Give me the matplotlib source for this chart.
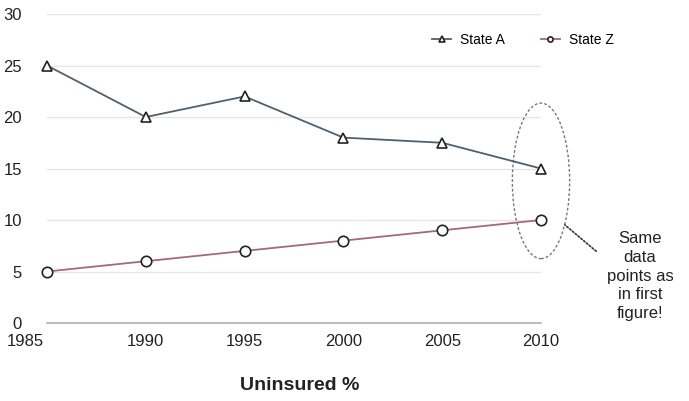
import matplotlib
matplotlib.use("Agg")
import matplotlib.pyplot as plt
from matplotlib.patches import Ellipse
from matplotlib.transforms import ScaledTranslation

years = [1985, 1990, 1995, 2000, 2005, 2010]
state_a = [25, 20, 22, 18, 17.5, 15]
state_z = [5, 6, 7, 8, 9, 10]
y_ticks = [0, 5, 10, 15, 20, 25, 30]

plt.rcParams['font.family'] = ['Liberation Sans', 'DejaVu Sans']

fig = plt.figure(figsize=(6.89, 4.01), dpi=100)
ax = fig.add_axes([0.0682, 0.1945, 0.7170, 0.7705])

ax.set_xlim(1985, 2010)
ax.set_ylim(0, 30)
ax.set_yticks(y_ticks)
ax.set_xticks(years)
ax.grid(axis='y', color='#e6e6e6', linewidth=1)
ax.set_axisbelow(True)
for s in ['top', 'right', 'left']:
    ax.spines[s].set_visible(False)
ax.spines['bottom'].set_color('#b0b0b0')
ax.spines['bottom'].set_linewidth(1.2)
ax.tick_params(length=0, labelsize=12, colors='#222222')
ax.tick_params(axis='y', pad=18)
ax.tick_params(axis='x', pad=8)

ax.plot(years, state_a, color='#4f6070', lw=1.3, marker='^', ms=7.5,
        mfc='white', mec='#222222', mew=1.2, label='State A', clip_on=False, zorder=3)
ax.plot(years, state_z, color='#a66a72', lw=1.3, marker='o', ms=7.5,
        mfc='white', mec='#222222', mew=1.2, label='State Z', clip_on=False, zorder=3)

fig.canvas.draw()
first = ax.get_xticklabels()[0]
first.set_transform(first.get_transform() + ScaledTranslation(-0.22, 0, fig.dpi_scale_trans))

leg = fig.legend(loc='center left', bbox_to_anchor=(432 / 689, 1 - 40 / 401), ncol=2,
                 frameon=False, fontsize=10, markerscale=0.5, handlelength=1.4,
                 columnspacing=2.6, handletextpad=0.6, borderaxespad=0, borderpad=0)

ell = Ellipse((2010, 13.8), 2.9, 15.1, fill=False, ls=(0, (2, 1.5)), ec='#777777',
              lw=1.0, clip_on=False)
ax.add_patch(ell)

ax.annotate('', xy=(2011.1, 9.7), xytext=(2012.9, 6.8),
            arrowprops=dict(arrowstyle='-', ls=(0, (1, 1.2)), color='#333333', lw=1.2),
            annotation_clip=False)

fig.text(640 / 689, 1 - 276 / 401, 'Same\ndata\npoints as\nin first\nfigure!', ha='center',
         va='center', fontsize=12, color='#222222', linespacing=1.3)

fig.text(300 / 689, 1 - 386 / 401, 'Uninsured %', ha='center', va='center',
         fontsize=14, fontweight='bold', color='#222222')

fig.savefig('out.png', dpi=100)
